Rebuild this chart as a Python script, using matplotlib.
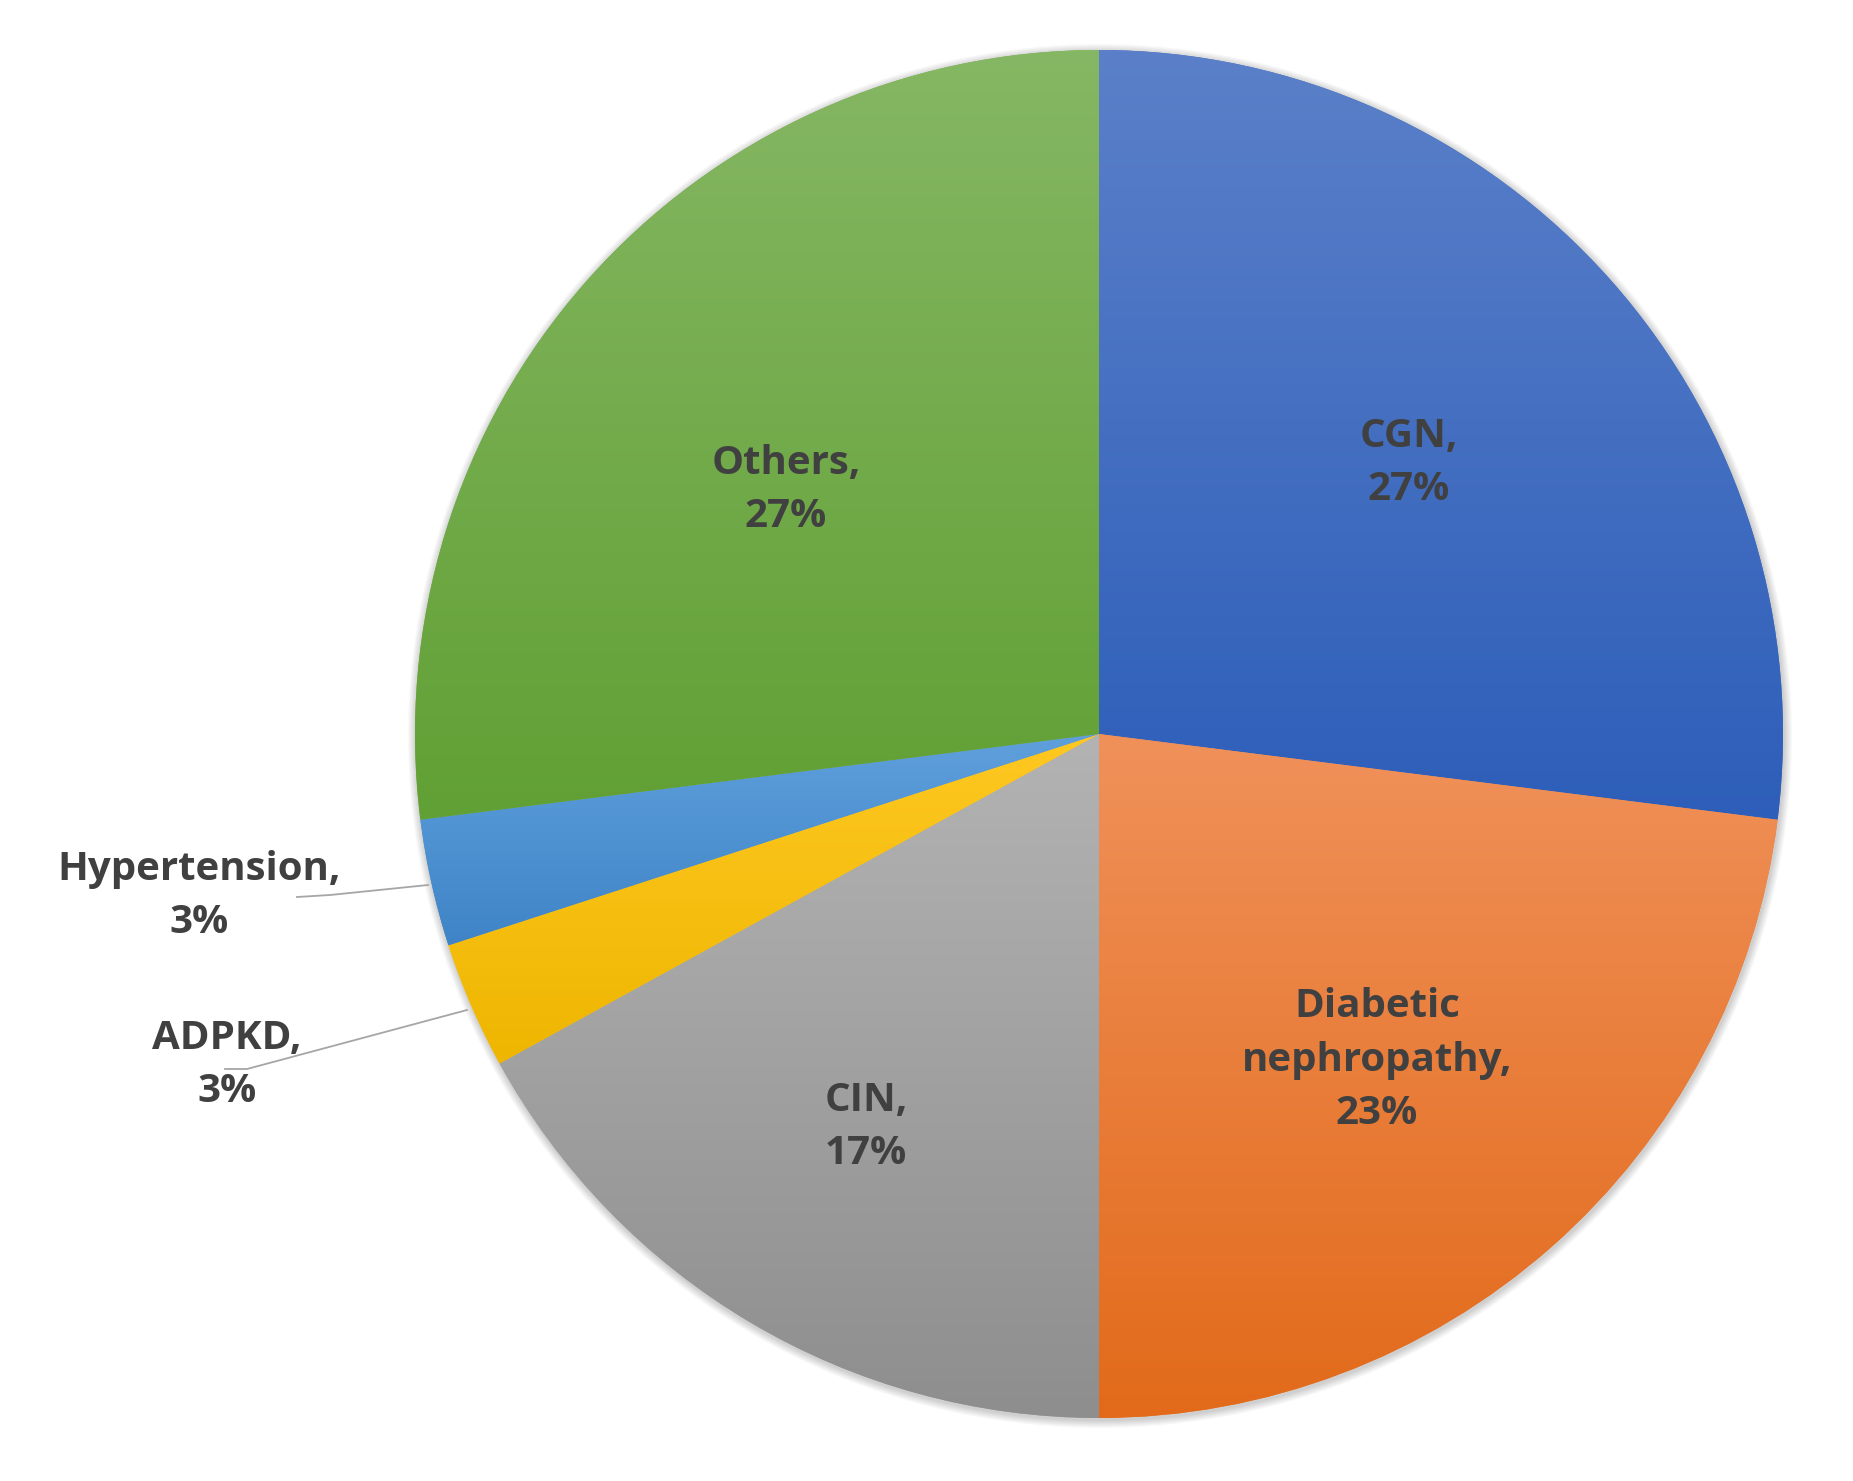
import numpy as np
import matplotlib
matplotlib.use("Agg")
import matplotlib.pyplot as plt
from matplotlib.patches import Circle
from matplotlib.colors import to_rgb

# Causes of CKD (share in %), clockwise from 12 o'clock
causes = ["CGN", "Diabetic\nnephropathy", "CIN", "ADPKD", "Hypertension", "Others"]
shares = [27, 23, 17, 3, 3, 27]

# Excel-like vertical gradient per slice (top -> bottom)
top_colors = ["#5b80c9", "#f0915a", "#b3b3b3", "#ffc822", "#5fa0dc", "#86b764"]
bottom_colors = ["#2d5eb9", "#e26a1a", "#8e8e8e", "#eeb600", "#3f84c7", "#61a034"]

# label centres (pixel-ish data coords, y up)
label_pos = [(1409, 1018), (1377, 421), (866, 354), (227, 416), (199, 585), (786, 991)]
# leader lines for the two small slices
leaders = {
    "ADPKD": [(467, 471), (247, 412), (225, 412)],
    "Hypertension": [(428, 596), (330, 586), (297, 584)],
}

W, H = 1853, 1481
CX, CY, R = 1099, 747, 684

fig = plt.figure(figsize=(W / 100, H / 100), dpi=100)
ax = fig.add_axes([0, 0, 1, 1])

# soft shadow round the pie
for i in range(8):
    ax.add_patch(Circle((CX + 1, CY - 2), R + 8 - i, color="black", alpha=0.025, lw=0, zorder=0))

wedges, _ = ax.pie(shares, startangle=90, counterclock=False, radius=R, center=(CX, CY),
                   wedgeprops=dict(linewidth=0))

for w, c0, c1 in zip(wedges, top_colors, bottom_colors):
    ang = np.radians(np.linspace(w.theta1, w.theta2, 300))
    ys = np.concatenate([[CY], CY + R * np.sin(ang)])
    y0, y1 = ys.min(), ys.max()
    t = np.linspace(0, 1, 256)[:, None]
    img = np.array(to_rgb(c1))[None, :] * (1 - t) + np.array(to_rgb(c0))[None, :] * t
    im = ax.imshow(img[:, None, :], extent=[CX - R, CX + R, y0, y1], origin="lower",
                   aspect="auto", interpolation="bilinear", zorder=2)
    im.set_clip_path(w)
    mid = tuple((np.array(to_rgb(c0)) + np.array(to_rgb(c1))) / 2)
    w.set_facecolor(mid)

for name, pts in leaders.items():
    xs, ys = zip(*pts)
    ax.plot(xs, ys, color="#a6a6a6", lw=1.3, zorder=3)

for name, share, (x, y) in zip(causes, shares, label_pos):
    ax.text(x, y, f"{name},\n{share}%", ha="center", va="center", multialignment="center",
            fontsize=29, fontweight="bold", family="Open Sans", color="#404040",
            linespacing=1.48, zorder=4)

ax.set_xlim(0, W)
ax.set_ylim(0, H)
ax.set_aspect("equal")
ax.axis("off")

fig.savefig("out.png", dpi=100, facecolor="white")
